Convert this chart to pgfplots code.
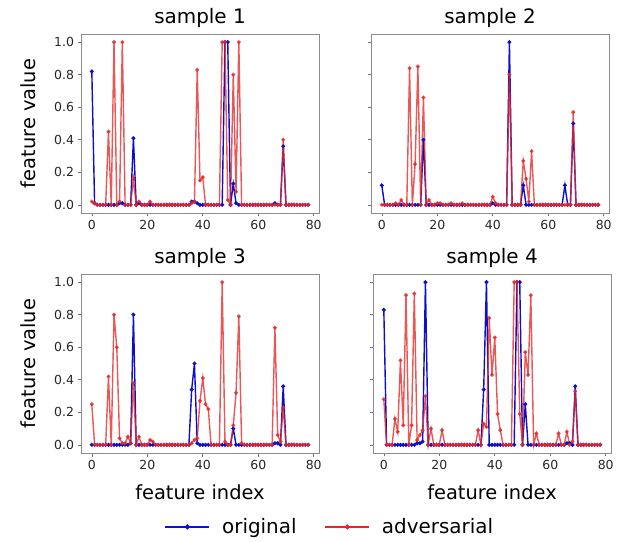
\documentclass[border=0pt]{standalone}
\usepackage{fontspec}
\setmainfont{DejaVu Sans}
\usepackage{pgfplots}
\usepackage{pgfplotstable}
\pgfplotsset{compat=1.18}
\definecolor{orig}{RGB}{15,15,200}
\definecolor{advr}{RGB}{228,40,40}

% feature values per sample: i = feature index, o = original, a = adversarial
\pgfplotstableread[row sep=\\]{
i o a\\
0 0.82 0.02\\ 1 0.01 0.01\\ 2 0 0\\ 3 0 0\\ 4 0 0\\ 5 0 0\\ 6 0 0.45\\ 7 0 0\\ 8 0 1\\ 9 0 0\\
10 0.01 0.02\\ 11 0.01 1\\ 12 0 0\\ 13 0 0\\ 14 0 0\\ 15 0.41 0.16\\ 16 0 0\\ 17 0.01 0.02\\ 18 0 0\\ 19 0 0\\
20 0 0\\ 21 0 0.02\\ 22 0 0\\ 23 0 0\\ 24 0 0\\ 25 0 0\\ 26 0 0\\ 27 0 0\\ 28 0 0\\ 29 0 0\\
30 0 0\\ 31 0 0\\ 32 0 0\\ 33 0 0\\ 34 0 0\\ 35 0 0\\ 36 0.02 0.01\\ 37 0.02 0.02\\ 38 0.01 0.83\\ 39 0 0.15\\
40 0 0.17\\ 41 0 0\\ 42 0 0\\ 43 0 0\\ 44 0 0\\ 45 0 0\\ 46 0 0\\ 47 0 1\\ 48 1 1\\ 49 1 0.03\\
50 0 0\\ 51 0.13 0.80\\ 52 0.01 0.08\\ 53 0 1\\ 54 0 0\\ 55 0 0\\ 56 0 0\\ 57 0 0\\ 58 0 0\\ 59 0 0\\
60 0 0\\ 61 0 0\\ 62 0 0\\ 63 0 0\\ 64 0 0\\ 65 0 0\\ 66 0.01 0\\ 67 0 0\\ 68 0 0\\ 69 0.36 0.40\\
70 0 0\\ 71 0 0\\ 72 0 0\\ 73 0 0\\ 74 0 0\\ 75 0 0\\ 76 0 0\\ 77 0 0\\ 78 0 0\\
}\sampleA

\pgfplotstableread[row sep=\\]{
i o a\\
0 0.12 0\\ 1 0 0\\ 2 0 0\\ 3 0 0\\ 4 0 0\\ 5 0 0.01\\ 6 0 0\\ 7 0 0.03\\ 8 0 0\\ 9 0 0\\
10 0 0.84\\ 11 0 0\\ 12 0 0.25\\ 13 0 0.85\\ 14 0 0\\ 15 0.40 0.66\\ 16 0 0\\ 17 0 0.03\\ 18 0 0\\ 19 0 0\\
20 0 0.01\\ 21 0 0.01\\ 22 0 0\\ 23 0 0\\ 24 0 0\\ 25 0 0.01\\ 26 0 0\\ 27 0 0\\ 28 0 0\\ 29 0 0.01\\
30 0 0\\ 31 0 0\\ 32 0 0\\ 33 0 0\\ 34 0 0\\ 35 0 0\\ 36 0 0\\ 37 0 0\\ 38 0 0\\ 39 0 0\\
40 0.01 0.05\\ 41 0 0.01\\ 42 0 0\\ 43 0 0\\ 44 0 0\\ 45 0 0\\ 46 1 0.80\\ 47 0 0\\ 48 0 0\\ 49 0 0\\
50 0 0\\ 51 0.12 0.27\\ 52 0 0.16\\ 53 0 0.02\\ 54 0 0.33\\ 55 0 0\\ 56 0 0\\ 57 0 0\\ 58 0 0\\ 59 0 0\\
60 0 0\\ 61 0 0\\ 62 0 0\\ 63 0 0\\ 64 0 0\\ 65 0 0\\ 66 0.12 0\\ 67 0 0\\ 68 0 0\\ 69 0.50 0.57\\
70 0 0\\ 71 0 0\\ 72 0 0\\ 73 0 0\\ 74 0 0\\ 75 0 0\\ 76 0 0\\ 77 0 0\\ 78 0 0\\
}\sampleB

\pgfplotstableread[row sep=\\]{
i o a\\
0 0 0.25\\ 1 0 0\\ 2 0 0\\ 3 0 0\\ 4 0 0\\ 5 0 0\\ 6 0 0.42\\ 7 0 0\\ 8 0 0.80\\ 9 0 0.60\\
10 0 0.04\\ 11 0 0.01\\ 12 0 0.01\\ 13 0 0.05\\ 14 0.01 0.01\\ 15 0.80 0.38\\ 16 0 0\\ 17 0 0.05\\ 18 0 0\\ 19 0 0\\
20 0 0\\ 21 0 0.03\\ 22 0 0.02\\ 23 0 0\\ 24 0 0\\ 25 0 0\\ 26 0 0\\ 27 0 0\\ 28 0 0\\ 29 0 0\\
30 0 0\\ 31 0 0\\ 32 0 0\\ 33 0 0\\ 34 0 0\\ 35 0 0\\ 36 0.34 0.01\\ 37 0.50 0.03\\ 38 0.01 0.04\\ 39 0 0.27\\
40 0 0.41\\ 41 0 0.25\\ 42 0 0.22\\ 43 0 0\\ 44 0 0\\ 45 0 0\\ 46 0 0\\ 47 0 1\\ 48 0 0.02\\ 49 0 0\\
50 0 0\\ 51 0.10 0.12\\ 52 0 0.32\\ 53 0 0.79\\ 54 0 0.01\\ 55 0 0\\ 56 0 0\\ 57 0 0\\ 58 0 0\\ 59 0 0\\
60 0 0\\ 61 0 0\\ 62 0 0\\ 63 0 0\\ 64 0 0\\ 65 0 0\\ 66 0.01 0.72\\ 67 0.01 0.06\\ 68 0 0.02\\ 69 0.36 0.23\\
70 0 0\\ 71 0 0\\ 72 0 0\\ 73 0 0\\ 74 0 0\\ 75 0 0\\ 76 0 0\\ 77 0 0\\ 78 0 0\\
}\sampleC

\pgfplotstableread[row sep=\\]{
i o a\\
0 0.83 0.28\\ 1 0 0\\ 2 0 0\\ 3 0 0\\ 4 0 0.16\\ 5 0 0.08\\ 6 0 0.52\\ 7 0 0.12\\ 8 0 0.92\\ 9 0 0\\
10 0 0.12\\ 11 0 0.93\\ 12 0.01 0.03\\ 13 0.01 0.06\\ 14 0.02 0.09\\ 15 1 0.30\\ 16 0 0\\ 17 0 0.10\\ 18 0 0\\ 19 0 0\\
20 0 0\\ 21 0 0.09\\ 22 0 0\\ 23 0 0\\ 24 0 0\\ 25 0 0\\ 26 0 0\\ 27 0 0\\ 28 0 0\\ 29 0 0\\
30 0 0\\ 31 0 0\\ 32 0 0\\ 33 0 0\\ 34 0 0.09\\ 35 0 0\\ 36 0.34 0.13\\ 37 1 0.11\\ 38 0 0.78\\ 39 0 0.43\\
40 0 0.66\\ 41 0 0.19\\ 42 0 0.09\\ 43 0 0\\ 44 0 0\\ 45 0 0\\ 46 0 0\\ 47 0 1\\ 48 1 1\\ 49 1 0.19\\
50 0 0\\ 51 0.25 0.57\\ 52 0 0.43\\ 53 0 0.92\\ 54 0 0\\ 55 0 0.07\\ 56 0 0\\ 57 0 0\\ 58 0 0\\ 59 0 0\\
60 0 0\\ 61 0 0\\ 62 0 0\\ 63 0 0.07\\ 64 0 0\\ 65 0 0\\ 66 0.01 0.08\\ 67 0.01 0\\ 68 0 0.02\\ 69 0.36 0.33\\
70 0 0\\ 71 0 0\\ 72 0 0\\ 73 0 0\\ 74 0 0\\ 75 0 0\\ 76 0 0\\ 77 0 0\\ 78 0 0\\
}\sampleD

\pgfplotsset{
  panel/.style={
    scale only axis, width=238bp, height=179bp,
    xmin=-3.9, xmax=81.9, ymin=-0.05, ymax=1.05,
    xtick={0,20,40,60,80}, ytick={0,0.2,0.4,0.6,0.8,1},
    yticklabel style={/pgf/number format/.cd, fixed, fixed zerofill, precision=1},
    /pgf/number format/assume math mode=true,
    tick align=outside, xtick pos=bottom, ytick pos=left,
    major tick length=3.5bp,
    axis line style={black!45},
    tick style={black!55, line width=0.6bp},
    tick label style={font=\fontsize{12.5}{14}\selectfont, text=black!85},
    title style={at={([yshift=5bp]axis description cs:0.5,1)}, anchor=base, font=\fontsize{20}{22}\selectfont},
    xlabel style={at={([yshift=-46bp]axis description cs:0.5,0)}, anchor=base, font=\fontsize{19.5}{22}\selectfont},
    ylabel style={at={([xshift=-46bp]axis description cs:0,0.5)}, anchor=base, font=\fontsize{19.5}{22}\selectfont},
  },
  ori/.style={color=orig, line width=1.4bp, mark=*, mark size=1.2bp},
  adv/.style={color=advr, opacity=0.78, line width=1.4bp, mark=*, mark size=1.2bp},
}

\begin{document}
\begin{tikzpicture}
\useasboundingbox (0,0) rectangle (626bp,542bp);

\begin{axis}[panel, at={(81bp,329bp)}, title={sample 1}, ylabel={feature value}]
\addplot[ori] table[x=i, y=o]{\sampleA};
\addplot[adv] table[x=i, y=a]{\sampleA};
\end{axis}

\begin{axis}[panel, at={(371bp,329bp)}, title={sample 2}, yticklabels={}]
\addplot[ori] table[x=i, y=o]{\sampleB};
\addplot[adv] table[x=i, y=a]{\sampleB};
\end{axis}

\begin{axis}[panel, at={(81bp,89bp)}, title={sample 3}, ylabel={feature value}, xlabel={feature index},
  legend style={at={(1.046,-0.413)}, anchor=center, legend columns=2, draw=none, fill=none,
    font=\fontsize{20}{22}\selectfont,
    /tikz/every odd column/.append style={column sep=10bp},
    /tikz/every even column/.append style={column sep=26bp}},
  legend image code/.code={\draw[mark repeat=2, mark phase=2, #1, opacity=1, mark size=1.8bp] plot coordinates {(0bp,0bp) (22bp,0bp) (44bp,0bp)};}]
\addplot[ori] table[x=i, y=o]{\sampleC};
\addplot[adv] table[x=i, y=a]{\sampleC};
\legend{original, adversarial}
\end{axis}

\begin{axis}[panel, at={(373bp,89bp)}, title={sample 4}, xlabel={feature index}, yticklabels={}]
\addplot[ori] table[x=i, y=o]{\sampleD};
\addplot[adv] table[x=i, y=a]{\sampleD};
\end{axis}
\end{tikzpicture}
\end{document}
